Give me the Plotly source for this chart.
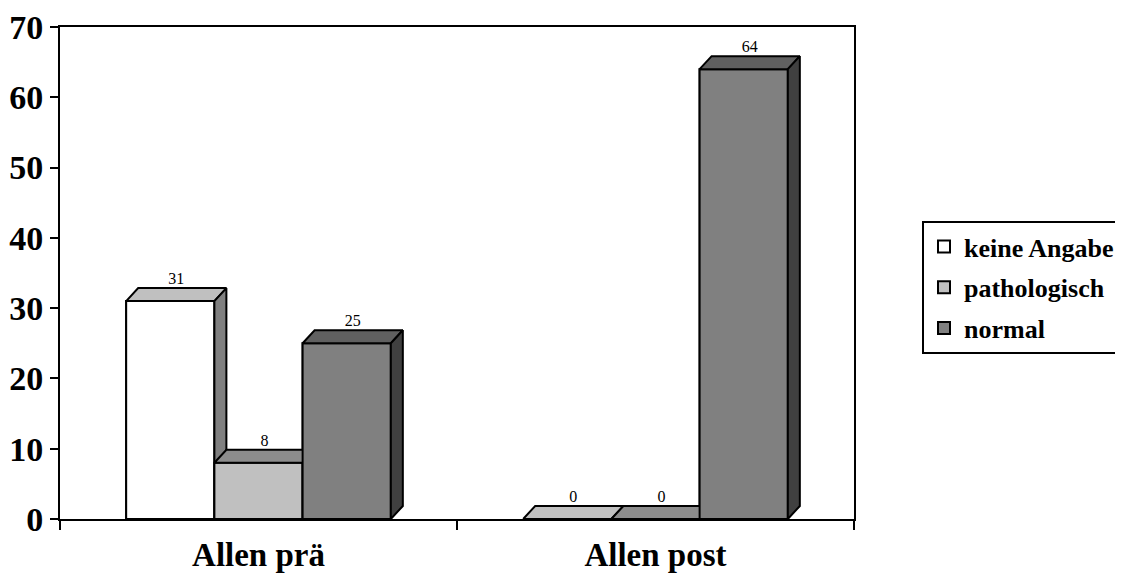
import plotly.graph_objects as go

# ---- data ----
categories = ["Allen prä", "Allen post"]
series_names = ["keine Angabe", "pathologisch", "normal"]
keine_angabe = [31, 0]
pathologisch = [8, 0]
normal = [25, 64]
y_ticks = [0, 10, 20, 30, 40, 50, 60, 70]

series_values = [keine_angabe, pathologisch, normal]

# ---- styles ----
front_colors = ["#FFFFFF", "#C0C0C0", "#808080"]
top_colors = ["#C0C0C0", "#8C8C8C", "#606060"]
side_colors = ["#808080", "#606060", "#404040"]
FONT = "Liberation Serif"
LW = 2

# page body has an 8px default margin; compensate so the figure lands where the reference is
PAGE_OFF = 8
FIG_W, FIG_H = 1123, 574 - PAGE_OFF

bargap = 1 / 3
bar_w = (1 - bargap) / 3
offsets = [-bar_w, 0.0, bar_w]
# 3D depth (pixel offsets converted to data units)
plot_w_px, plot_h_px = 794, 492
x_span, y_span = 2.0, 70.0
dx = 12 / (plot_w_px / x_span)
dy = 13 / (plot_h_px / y_span)

xs = list(range(len(categories)))

fig = go.Figure()

# legend / base bars
for s, name in enumerate(series_names):
    fig.add_trace(go.Bar(
        x=[x + offsets[s] for x in xs], y=series_values[s], name=name,
        width=bar_w, legendgroup=name,
        marker=dict(color=front_colors[s], line=dict(color="black", width=LW)),
        hoverinfo="skip", showlegend=True,
    ))

def poly(px, py, color):
    fig.add_trace(go.Scatter(
        x=px + [px[0]], y=py + [py[0]], mode="lines", fill="toself",
        fillcolor=color, line=dict(color="black", width=LW),
        hoverinfo="skip", showlegend=False,
    ))

# 3D faces drawn left to right so later bars cover earlier sides
for c in xs:
    for s in range(len(series_names)):
        v = series_values[s][c]
        xc = c + offsets[s]
        xl, xr = xc - bar_w / 2, xc + bar_w / 2
        if v > 0:
            poly([xl, xr, xr, xl], [0, 0, v, v], front_colors[s])
            poly([xl, xl + dx, xr + dx, xr], [v, v + dy, v + dy, v], top_colors[s])
            poly([xr, xr + dx, xr + dx, xr], [0, dy, v + dy, v], side_colors[s])
        else:
            poly([xl, xl + dx, xr + dx, xr], [0, dy, dy, 0], top_colors[s])

# value labels
lx, ly, lt = [], [], []
for c in xs:
    for s in range(len(series_names)):
        v = series_values[s][c]
        lx.append(c + offsets[s] + dx / 2)
        ly.append(v + dy)
        lt.append(str(v))
fig.add_trace(go.Scatter(
    x=lx, y=ly, text=lt, mode="text", textposition="top center",
    textfont=dict(family=FONT, size=16, color="black"),
    hoverinfo="skip", showlegend=False, cliponaxis=False,
))

fig.update_layout(
    width=FIG_W, height=FIG_H,
    margin=dict(l=60 - PAGE_OFF, r=FIG_W - (854 - PAGE_OFF), t=27 - PAGE_OFF,
                b=FIG_H - (519 - PAGE_OFF), autoexpand=False),
    paper_bgcolor="white", plot_bgcolor="white",
    barmode="overlay",
    font=dict(family=FONT, color="black"),
    legend=dict(
        xref="container", yref="container",
        x=(922 - PAGE_OFF) / FIG_W, xanchor="left",
        y=1 - (221 - PAGE_OFF) / FIG_H, yanchor="top",
        bordercolor="black", borderwidth=2, bgcolor="white",
        font=dict(family=FONT, size=26, color="black", weight="bold"),
        traceorder="grouped", itemclick=False, tracegroupgap=4,
    ),
    xaxis=dict(
        range=[-0.5, 1.5], tickmode="array", tickvals=xs, ticktext=categories,
        ticks="", showline=True, linecolor="black", linewidth=LW, mirror=True,
        showgrid=False, zeroline=False, automargin=False,
        tickfont=dict(family=FONT, size=33, color="black", weight="bold"),
        ticklabelstandoff=5,
        minor=dict(tickmode="array", tickvals=[-0.5, 0.5, 1.5], ticks="outside",
                   ticklen=9, tickwidth=LW, tickcolor="black", showgrid=False),
        fixedrange=True,
    ),
    yaxis=dict(
        range=[0, 70], tickmode="array", tickvals=y_ticks,
        ticks="outside", ticklen=8, tickwidth=LW, tickcolor="black",
        showline=True, linecolor="black", linewidth=LW, mirror=True,
        showgrid=False, zeroline=False, automargin=False,
        tickfont=dict(family=FONT, size=34, color="black", weight="bold"),
        fixedrange=True,
    ),
)

fig.write_html("out.html")
